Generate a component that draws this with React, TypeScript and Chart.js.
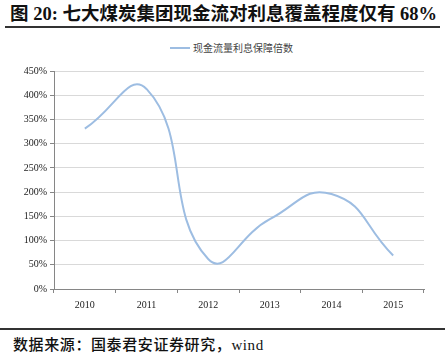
import React, { useEffect, useRef } from "react";
import { Chart, registerables } from "chart.js";

Chart.register(...registerables);

const categories = ["2010", "2011", "2012", "2013", "2014", "2015"];
const coverage = [331, 413, 62, 144, 196, 69];
const seriesName = "现金流量利息保障倍数";
const titleText = "图 20: 七大煤炭集团现金流对利息覆盖程度仅有 68%";
const sourceText = "数据来源：国泰君安证券研究，wind";

const LINE_COLOR = "#9dbde2";
const FONT_SERIF = "'Liberation Serif', 'Times New Roman', 'Noto Sans CJK SC', serif";

export default function App() {
  const ref = useRef<HTMLCanvasElement | null>(null);

  useEffect(() => {
    document.body.style.margin = "0";
    const ctx = ref.current!.getContext("2d")!;
    const chart = new Chart(ctx, {
      type: "line",
      data: {
        labels: categories,
        datasets: [
          {
            label: seriesName,
            data: coverage,
            borderColor: LINE_COLOR,
            backgroundColor: LINE_COLOR,
            borderWidth: 2,
            pointRadius: 0,
            tension: 0.5,
            fill: false,
          },
        ],
      },
      options: {
        animation: false,
        responsive: false,
        maintainAspectRatio: false,
        layout: { padding: { left: 0, right: 21, top: 36, bottom: 0 } },
        plugins: { legend: { display: false }, tooltip: { enabled: false } },
        scales: {
          x: {
            offset: true,
            grid: {
              display: true,
              drawOnChartArea: false,
              drawTicks: true,
              tickLength: 4,
              offset: true,
              color: "#868686",
            },
            border: { display: true, color: "#868686", width: 1 },
            ticks: {
              color: "#222",
              font: { family: FONT_SERIF, size: 10 },
              padding: 6,
              maxRotation: 0,
            },
            afterFit: (s: any) => {
              s.height = 31;
            },
          },
          y: {
            min: 0,
            max: 450,
            grid: {
              color: "#d9d9d9",
              lineWidth: 1,
              drawTicks: true,
              tickLength: 4,
              tickColor: "#868686",
            },
            border: { display: true, color: "#868686", width: 1 },
            ticks: {
              stepSize: 50,
              color: "#222",
              font: { family: FONT_SERIF, size: 10 },
              padding: 3,
              callback: (v: any) => v + "%",
            },
            afterFit: (s: any) => {
              s.width = 54;
            },
          },
        },
      },
    });
    return () => chart.destroy();
  }, []);

  return (
    <div
      style={{
        position: "fixed",
        left: 0,
        top: 0,
        width: 445,
        height: 358,
        background: "#fff",
        overflow: "hidden",
      }}
    >
      <div
        style={{
          position: "absolute",
          left: 10,
          top: 3,
          fontFamily: FONT_SERIF,
          fontWeight: "bold",
          fontSize: 18.5,
          color: "#111",
          whiteSpace: "nowrap",
          lineHeight: "22px",
        }}
      >
        {titleText}
      </div>
      <div
        style={{
          position: "absolute",
          left: 5,
          top: 26,
          width: 435,
          height: 2,
          background: "#333",
        }}
      />
      <div
        style={{
          position: "absolute",
          left: 170,
          top: 41,
          display: "flex",
          alignItems: "center",
          whiteSpace: "nowrap",
        }}
      >
        <span
          style={{
            display: "inline-block",
            width: 20,
            height: 2,
            background: LINE_COLOR,
            marginRight: 3,
          }}
        />
        <span
          style={{
            fontFamily: "'Noto Sans CJK SC', sans-serif",
            fontSize: 10,
            color: "#444",
            lineHeight: "14px",
          }}
        >
          {seriesName}
        </span>
      </div>
      <canvas
        ref={ref}
        width={445}
        height={285}
        style={{ position: "absolute", left: 0, top: 35, width: 445, height: 285 }}
      />
      <div
        style={{
          position: "absolute",
          left: 0,
          top: 328,
          width: 445,
          height: 2,
          background: "#333",
        }}
      />
      <div
        style={{
          position: "absolute",
          left: 13,
          top: 335,
          fontFamily: FONT_SERIF,
          fontSize: 15,
          fontWeight: 500,
          letterSpacing: 0.6,
          color: "#111",
          whiteSpace: "nowrap",
          lineHeight: "20px",
        }}
      >
        {sourceText}
      </div>
    </div>
  );
}
